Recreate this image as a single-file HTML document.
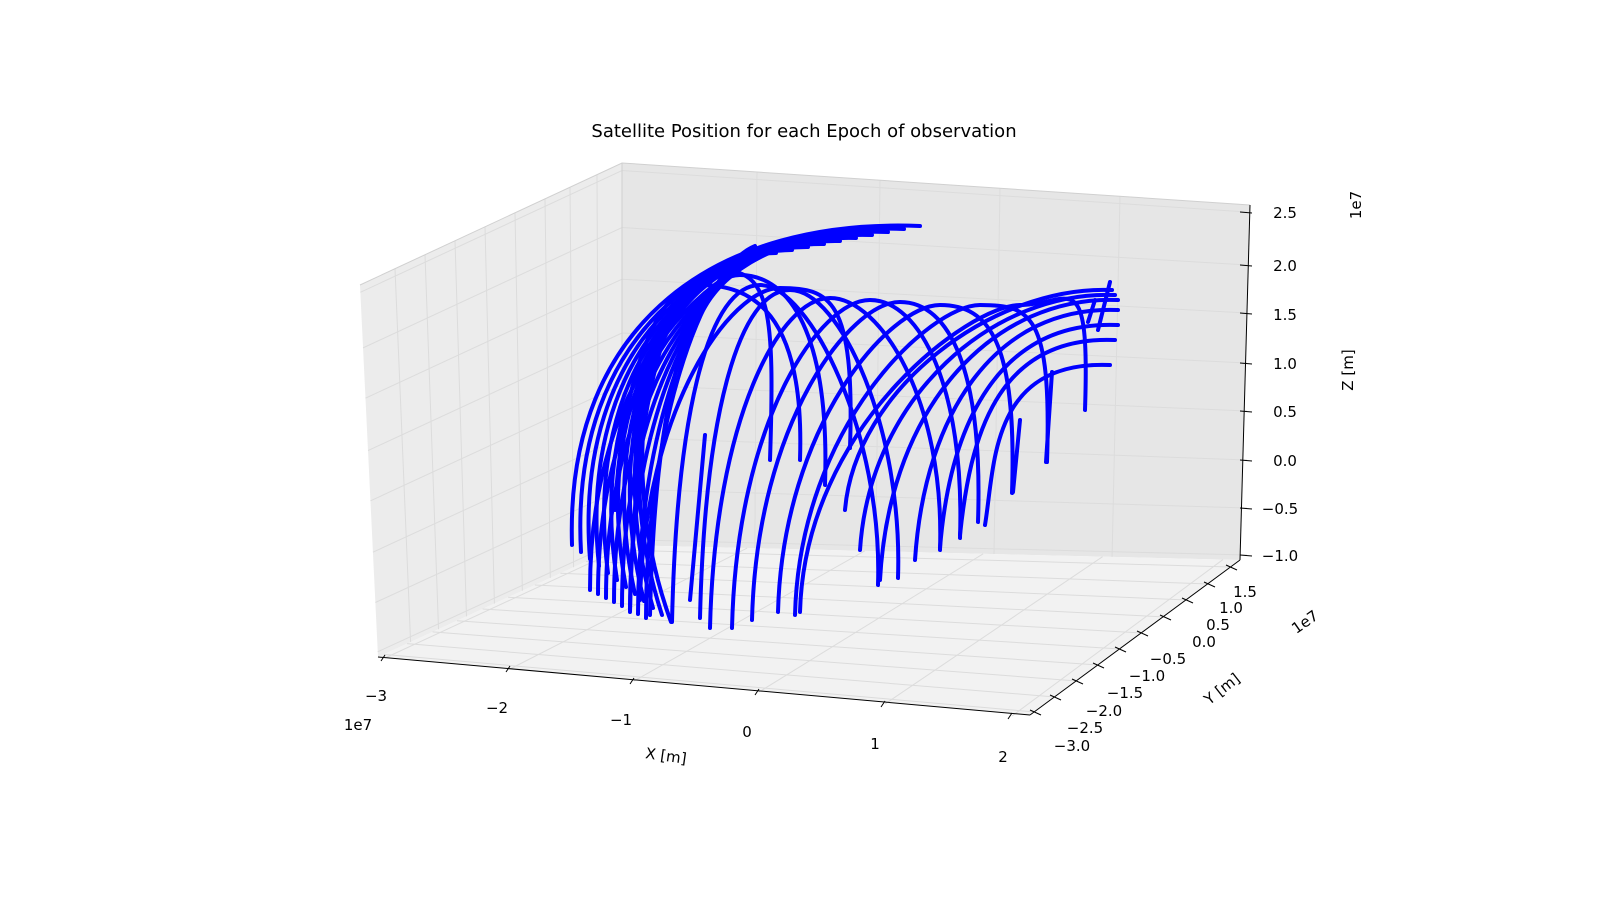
<!DOCTYPE html>
<html><head><meta charset="utf-8"><style>
html,body{margin:0;padding:0;background:#fff;}
svg text{font-family:"DejaVu Sans","Liberation Sans",sans-serif;font-size:15px;fill:#000;}
</style></head><body>
<svg id="s" width="1600" height="893" viewBox="0 0 1600 893" xmlns="http://www.w3.org/2000/svg">
<rect width="1600" height="893" fill="#fff"/>
<polygon points="360,285 622,163 622,545 378,657" fill="#ececec"/>
<polygon points="622,163 1250,205 1240,560 622,545" fill="#e6e6e6"/>
<polygon points="378,657 622,545 1240,560 1030,715" fill="#f2f2f2"/>
<g id="grid" stroke="#dcdcdc" stroke-width="1" fill="none"></g>
<polyline points="360,285 622,163 1250,205" fill="none" stroke="#d0d0d0"/>
<line x1="622" y1="163" x2="622" y2="545" stroke="#d0d0d0"/>
<line x1="378" y1="657" x2="1030" y2="715" stroke="#000"/>
<line x1="1030" y1="715" x2="1240" y2="560" stroke="#000"/>
<line x1="1240" y1="560" x2="1250" y2="205" stroke="#000"/>
<g id="ticks" stroke="#000" stroke-width="1"></g>
<g id="curves" fill="none" stroke="#0000ff" stroke-width="4" stroke-linecap="round"></g>
<text x="804" y="137" text-anchor="middle" style="font-size:18px">Satellite Position for each Epoch of observation</text>
<text x="376" y="701" text-anchor="middle">−3</text>
<text x="497" y="713" text-anchor="middle">−2</text>
<text x="621" y="725" text-anchor="middle">−1</text>
<text x="747" y="737" text-anchor="middle">0</text>
<text x="875" y="749" text-anchor="middle">1</text>
<text x="1003" y="762" text-anchor="middle">2</text>
<text x="358" y="730" text-anchor="middle">1e7</text>
<text x="666" y="761" text-anchor="middle" transform="rotate(8 666 756)">X [m]</text>
<text x="1072" y="751" text-anchor="middle">−3.0</text>
<text x="1085" y="733" text-anchor="middle">−2.5</text>
<text x="1104" y="716" text-anchor="middle">−2.0</text>
<text x="1125" y="698" text-anchor="middle">−1.5</text>
<text x="1147" y="681" text-anchor="middle">−1.0</text>
<text x="1168" y="664" text-anchor="middle">−0.5</text>
<text x="1204" y="647" text-anchor="middle">0.0</text>
<text x="1218" y="630" text-anchor="middle">0.5</text>
<text x="1231" y="613" text-anchor="middle">1.0</text>
<text x="1245" y="597" text-anchor="middle">1.5</text>
<text x="1305" y="627" text-anchor="middle" transform="rotate(-35 1305 622)">1e7</text>
<text x="1222" y="694" text-anchor="middle" transform="rotate(-38 1222 689)">Y [m]</text>
<text x="1285" y="218" text-anchor="middle">2.5</text>
<text x="1285" y="271" text-anchor="middle">2.0</text>
<text x="1285" y="320" text-anchor="middle">1.5</text>
<text x="1285" y="369" text-anchor="middle">1.0</text>
<text x="1285" y="417" text-anchor="middle">0.5</text>
<text x="1285" y="466" text-anchor="middle">0.0</text>
<text x="1280" y="514" text-anchor="middle">−0.5</text>
<text x="1280" y="561" text-anchor="middle">−1.0</text>
<text x="1366" y="210" text-anchor="middle" transform="rotate(-90 1361 210)">1e7</text>
<text x="1358" y="375" text-anchor="middle" transform="rotate(-90 1353 375)">Z [m]</text>
</svg>
<script>
var NS="http://www.w3.org/2000/svg";
function el(g,t,a){var e=document.createElementNS(NS,t);for(var k in a)e.setAttribute(k,a[k]);document.getElementById(g).appendChild(e);}
var lv=[395,425,455,485,515,545,570,597];
lv.forEach(function(x){var t=(x-360)/(622-360);el("grid","line",{x1:x,y1:285-t*122,x2:378+t*244,y2:657-t*112});});
[757,880,1000,1120].forEach(function(x){var t=(x-622)/628;el("grid","line",{x1:x,y1:163+t*42,x2:x-t*10,y2:545+t*15});});
var zt=[212,265,313,363,411,460,508,555];
zt.forEach(function(y){var ly=163+(y-205)*1.076;var ey=285+(ly-163)*(372/382);var ex=360+(ly-163)/382*18;
 el("grid","line",{x1:622,y1:ly,x2:1247,y2:y});el("grid","line",{x1:ex,y1:ey,x2:622,y2:ly});});
var xt=[[385,658],[510,669],[634,681],[759,692],[885,704],[1012,716]];
xt.forEach(function(p){var t=(p[0]-378)/652;el("grid","line",{x1:p[0],y1:p[1],x2:622+t*618,y2:545+t*15});el("ticks","line",{x1:p[0],y1:p[1]-3,x2:p[0]-4,y2:p[1]+3});});
var yt=[[1035,712],[1055,697],[1077,681],[1098,665],[1120,649],[1142,633],[1165,617],[1187,600],[1209,584],[1231,567]];
yt.forEach(function(p){var t=(p[0]-1030)/210;el("grid","line",{x1:p[0],y1:p[1],x2:378+t*244,y2:657-t*112});el("ticks","line",{x1:p[0]-5,y1:p[1]-2,x2:p[0]+6,y2:p[1]+3});});
zt.forEach(function(y){el("ticks","line",{x1:1240,y1:y,x2:1252,y2:y+1});});
function c(d){el("curves","path",{d:d});}
for(var i=0;i<12;i++){
 var sx=920-i*16,sy=226+i*3;
 c("M"+sx+","+sy+" C"+(720-i*6)+","+(218+i*4)+" "+(565+i*4)+","+(320+i*12)+" "+(572+i*9)+","+(545+i*7));
}
for(var i=0;i<8;i++){
 c("M"+(860-i*15)+","+(232+i*2)+" C"+(700)+","+(240+i*4)+" "+(590+i*8)+","+(380+i*8)+" "+(590+i*8)+","+(590+i*4));
}
var A=[
 [650,615,740,275,825,485],
 [672,622,760,285,878,585],
 [700,618,790,290,898,578],
 [710,628,830,298,940,550],
 [732,628,870,300,960,538],
 [752,620,900,302,978,522],
 [778,612,940,305,1012,493],
 [795,615,980,305,1047,462],
 [800,612,1020,305,1085,410],
 [630,612,720,270,770,460],
 [615,510,700,285,800,460],
 [640,600,780,288,850,448]
];
A.forEach(function(a){
 c("M"+a[0]+","+a[1]+" C"+(a[0]+5)+","+(a[3]+120)+" "+(a[2]-50)+","+a[3]+" "+a[2]+","+a[3]+" C"+(a[2]+50)+","+a[3]+" "+(a[4]+5)+","+(a[5]-150)+" "+a[4]+","+a[5]);
});
// right-ending arcs (left half only, ending at right edge)
var R=[[880,580,1118,300],[915,560,1118,310],[940,548,1118,325],[960,535,1115,340],[985,525,1110,365],[860,550,1115,295],[845,510,1112,290]];
R.forEach(function(r){
 c("M"+r[0]+","+r[1]+" C"+(r[0]+10)+","+(r[3]+100)+" "+(r[2]-120)+","+(r[3]-5)+" "+r[2]+","+r[3]);
});
c("M1020,420 L1013,492");c("M1052,372 L1046,462");c("M705,435 L690,600");
c("M1110,282 L1098,330");c("M1095,300 L1088,322");
</script>
</body></html>
